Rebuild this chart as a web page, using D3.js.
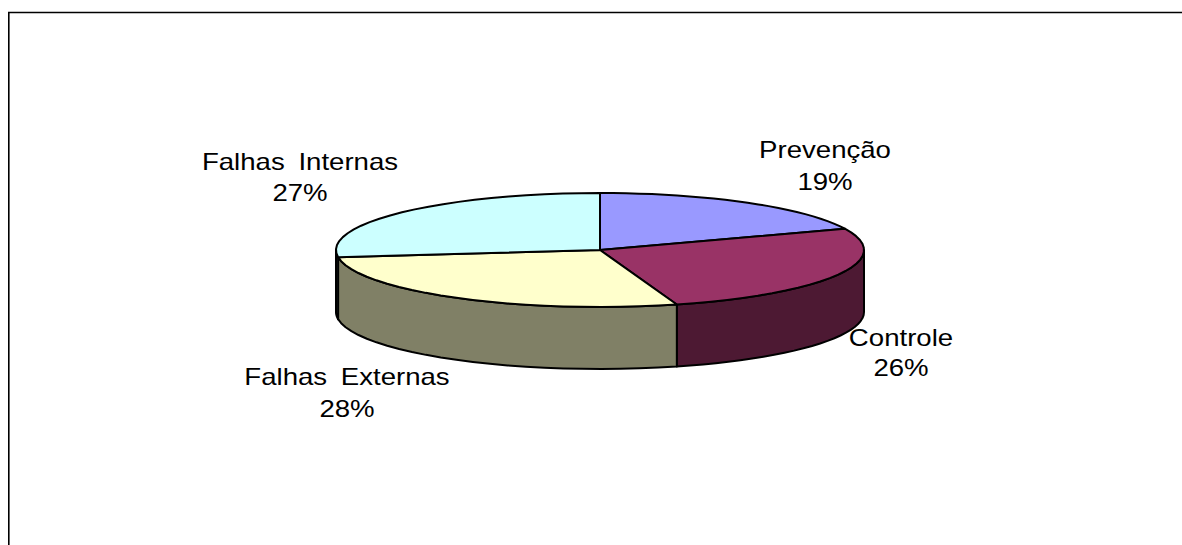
<!DOCTYPE html>
<html><head><meta charset="utf-8">
<script src="https://cdn.jsdelivr.net/npm/d3@7/dist/d3.min.js"></script>
<style>html,body{margin:0;background:#fff}svg{display:block}text{font-family:"Liberation Sans",Arial,sans-serif;font-size:23px;fill:#000}</style>
</head><body><svg id="c" width="1182" height="545"></svg>
<script>
const categories = ["Prevenção","Controle","Falhas Externas","Falhas Internas"];
const values = [18.9,26.4,27.7,27.0];
const topColors = ["#9999FF","#993366","#FFFFCC","#CCFFFF"];
const sideColors = ["#4D4D80","#4D1933","#808066","#668080"];
const labelX = [825,901,347,300];
const nameY = [158,346,385,170];
const pctY = [190,376,417,201];

const cx=600, cy=250, rx=264, ry=57, depth=62;
const svg=d3.select("#c");
svg.append("path").attr("d","M8.8,545V12.5H1182").attr("fill","none").attr("stroke","#000").attr("stroke-width",1.6);

const arcs=d3.pie().sort(null)(values);
const px=d3.scaleLinear().domain([-1,1]).range([cx-rx,cx+rx]);
const py=d3.scaleLinear().domain([-1,1]).range([cy-ry,cy+ry]);
const line=d3.line().x(d=>d[0]).y(d=>d[1]);
const pt=(t,dz=0)=>[px(Math.sin(t)),py(-Math.cos(t))+dz];
const N=24;
const steps=(a,b)=>d3.range(N+1).map(i=>a+(b-a)*i/N);

arcs.forEach((d,i)=>{
  const a=Math.max(d.startAngle,Math.PI/2), b=Math.min(d.endAngle,3*Math.PI/2);
  if(b<=a) return;
  const s=steps(a,b);
  const pts=[...s.map(t=>pt(t)),...s.slice().reverse().map(t=>pt(t,depth))];
  svg.append("path").attr("d",line(pts)+"Z").attr("fill",sideColors[i]).attr("stroke","#000").attr("stroke-width",2).attr("stroke-linejoin","round");
});
arcs.forEach((d,i)=>{
  const pts=[[cx,cy],...steps(d.startAngle,d.endAngle).map(t=>pt(t))];
  svg.append("path").attr("d",line(pts)+"Z").attr("fill",topColors[i]).attr("stroke","#000").attr("stroke-width",2).attr("stroke-linejoin","round");
});
categories.forEach((c,i)=>{
  svg.append("text").attr("transform",`translate(${labelX[i]},${nameY[i]}) scale(1.2,1)`).attr("text-anchor","middle").attr("word-spacing",5).text(c);
  svg.append("text").attr("transform",`translate(${labelX[i]},${pctY[i]}) scale(1.2,1)`).attr("text-anchor","middle").text(Math.round(values[i])+"%");
});
</script></body></html>
